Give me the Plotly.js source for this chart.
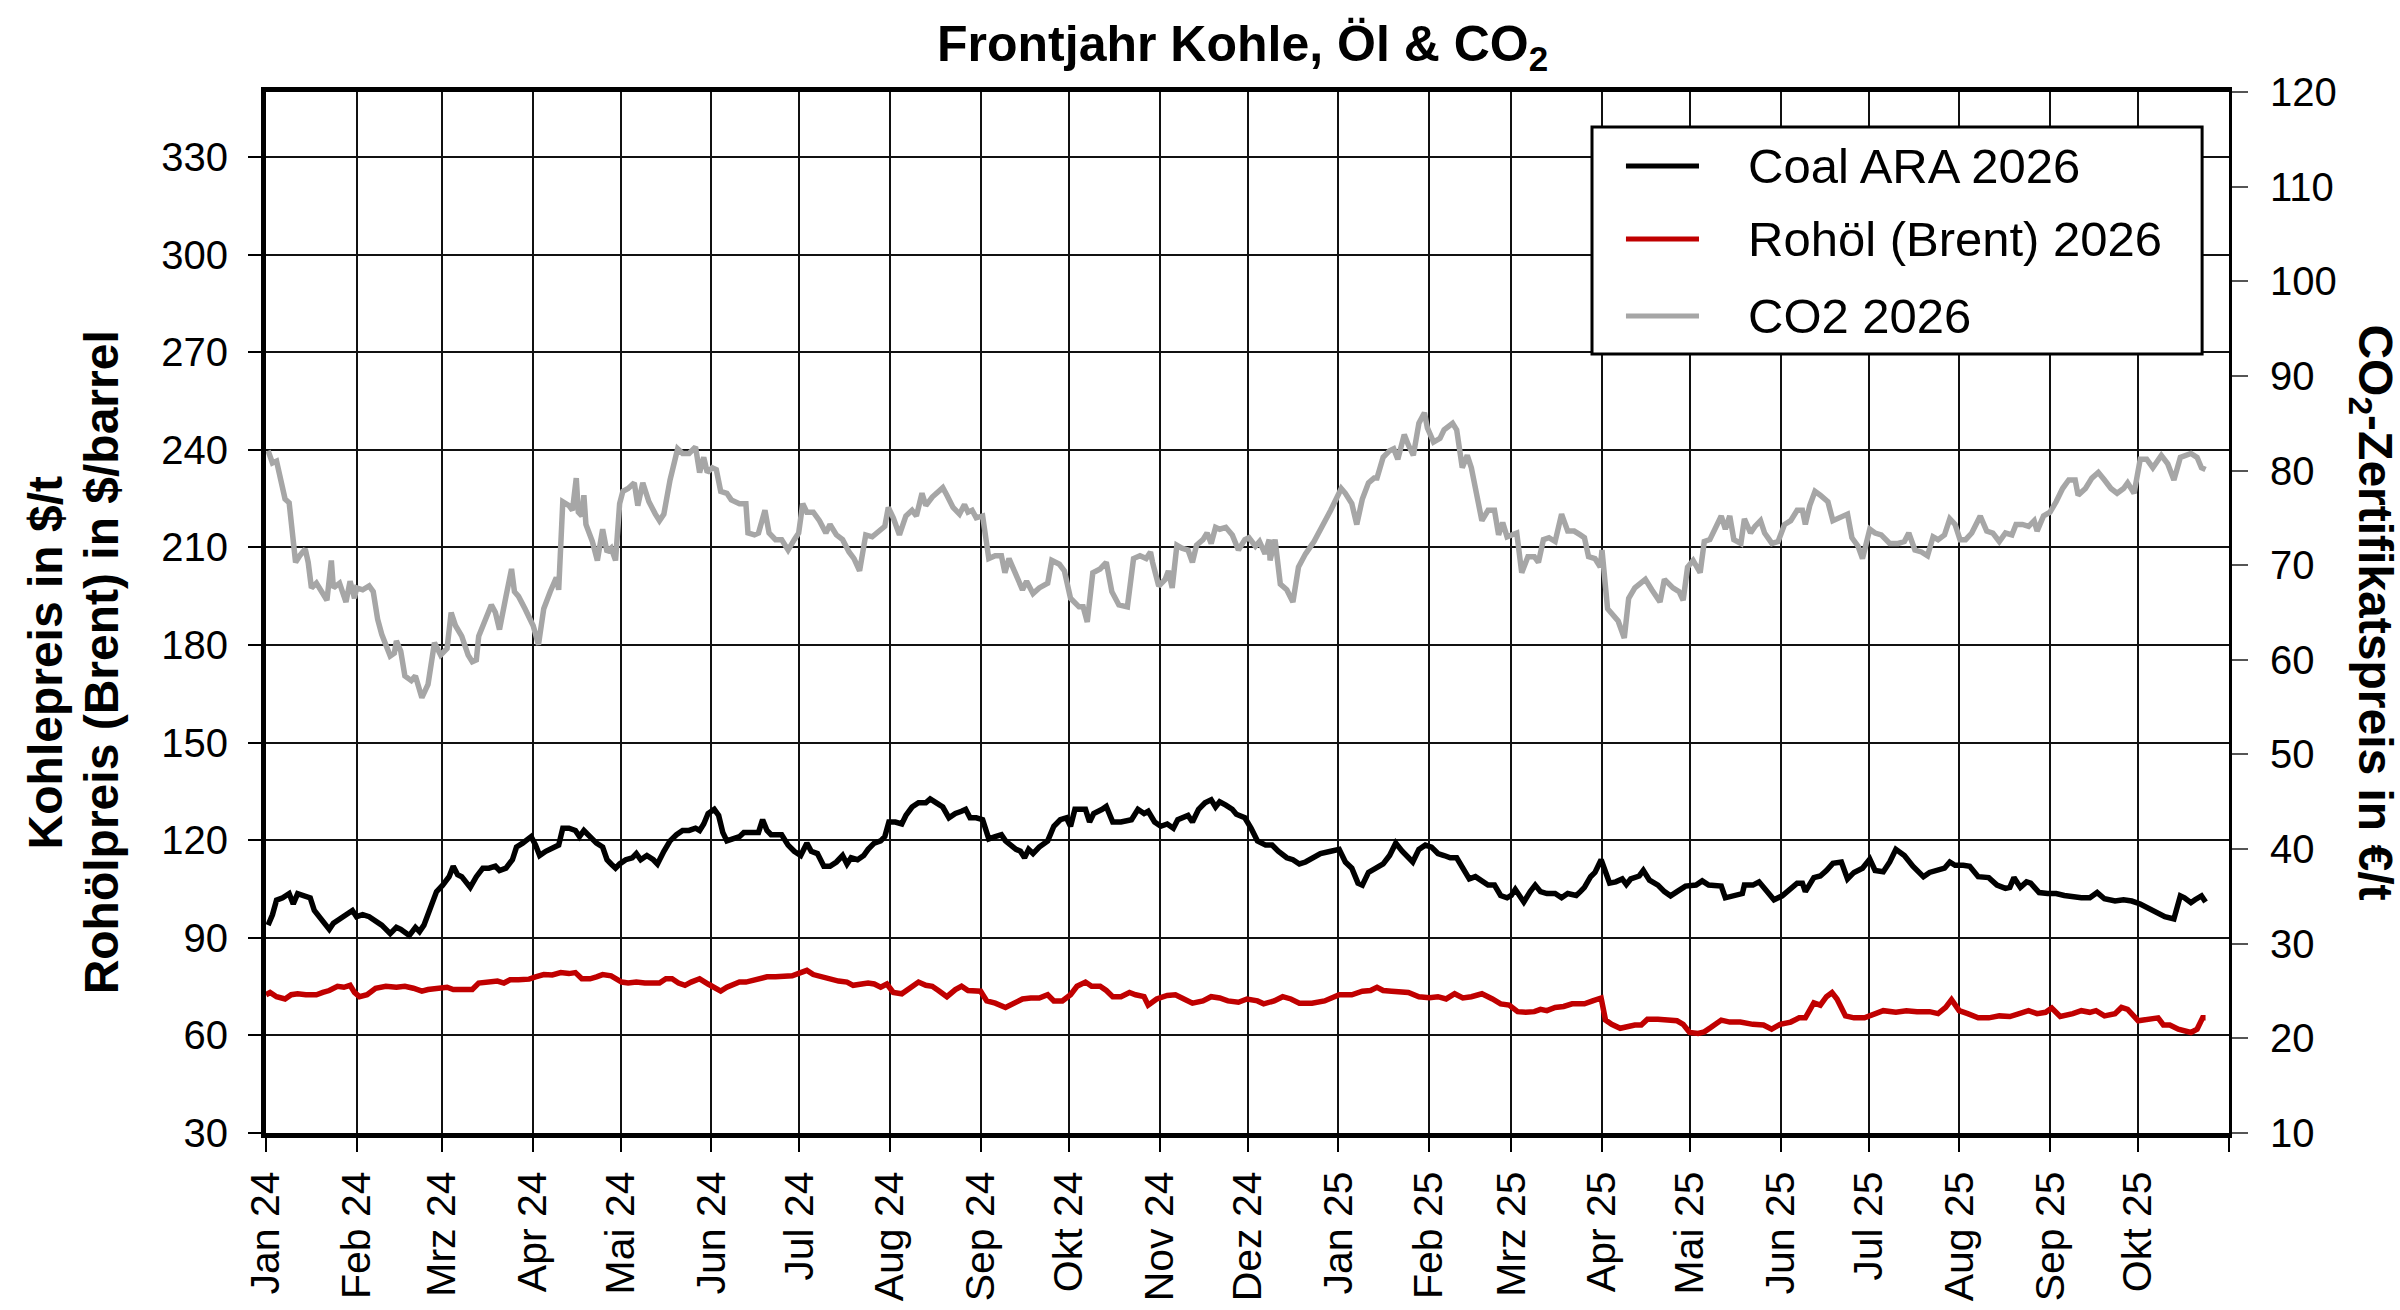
<!DOCTYPE html>
<html>
<head>
<meta charset="utf-8">
<script src="https://cdn.plot.ly/plotly-3.0.1.min.js"></script>
<style>
  html, body { margin: 0; padding: 0; background: #fff; }
  #main { width: 2400px; height: 1310px; }
</style>
</head>
<body>
<div id="main"></div>
<script>
// month ticks (German labels)
const monthTicks = ['2024-01-01', '2024-02-01', '2024-03-01', '2024-04-01', '2024-05-01', '2024-06-01',
  '2024-07-01', '2024-08-01', '2024-09-01', '2024-10-01', '2024-11-01', '2024-12-01',
  '2025-01-01', '2025-02-01', '2025-03-01', '2025-04-01', '2025-05-01', '2025-06-01',
  '2025-07-01', '2025-08-01', '2025-09-01', '2025-10-01', '2025-11-01']
const monthLabels = ['Jan 24', 'Feb 24', 'Mrz 24', 'Apr 24', 'Mai 24', 'Jun 24', 'Jul 24', 'Aug 24',
  'Sep 24', 'Okt 24', 'Nov 24', 'Dez 24', 'Jan 25', 'Feb 25', 'Mrz 25', 'Apr 25', 'Mai 25', 'Jun 25',
  'Jul 25', 'Aug 25', 'Sep 25', 'Okt 25', '']

const leftTicks = [30, 60, 90, 120, 150, 180, 210, 240, 270, 300, 330]
const rightTicks = [10, 20, 30, 40, 50, 60, 70, 80, 90, 100, 110, 120]

const seriesNames = ['Coal ARA 2026', 'Rohöl (Brent) 2026', 'CO2 2026']

// days since 2024-01-01
const coalDays = [0.7, 2.2, 3.6, 5.7, 7.9, 9.3, 10.8, 12.9, 15.1, 16.5, 18.7, 21.6, 23.0, 25.1, 27.3, 29.5, 30.9, 33.0, 35.2, 37.4,
  39.5, 42.4, 44.5, 46.0, 48.9, 51.0, 52.4, 53.9, 55.3, 56.8, 58.2, 60.3, 62.5, 63.9, 65.4, 66.8, 69.7, 71.8, 74.0, 76.1,
  78.3, 79.7, 81.9, 84.1, 85.5, 87.6, 90.5, 92.0, 93.4, 95.5, 98.4, 99.9, 101.3, 103.4, 105.6, 107.0, 108.5, 110.6, 112.8, 114.9,
  116.4, 117.8, 119.3, 120.7, 122.8, 125.0, 126.4, 127.9, 130.0, 132.2, 133.6, 135.8, 137.9, 140.1, 142.2, 144.4, 146.6, 148.0, 149.4, 150.9,
  153.0, 154.5, 155.9, 157.3, 159.5, 161.6, 163.1, 165.2, 168.1, 169.5, 171.0, 172.4, 174.6, 176.0, 178.2, 180.3, 182.5, 184.6, 186.1, 188.2,
  190.4, 192.5, 194.7, 196.8, 198.3, 199.7, 201.9, 204.0, 205.5, 207.6, 209.8, 211.2, 212.6, 214.8, 217.0, 218.4, 220.5, 222.7,
  225.2, 226.7, 228.8, 231.0, 233.1, 235.3, 237.4, 238.8, 240.3, 242.4, 244.6, 246.7, 248.9, 251.0, 252.4, 253.9, 256.0, 257.5, 258.9, 260.3,
  261.8, 263.9, 266.8, 268.9, 271.1, 273.2, 274.6, 276.1, 278.2, 279.7, 281.1, 282.5, 285.4, 286.8, 289.0, 291.8, 295.4, 297.6, 299.7, 301.1,
  303.3, 305.4, 307.6, 309.7, 311.2, 313.3, 314.7, 316.2, 318.3, 320.5, 322.6, 324.1, 325.5, 327.6, 329.8, 331.2, 334.1, 336.2, 338.4, 341.2,
  343.4, 345.5, 348.4, 350.5, 352.7, 354.8, 357.0, 359.9, 363.4, 366.3, 368.4, 370.6, 372.7, 374.2, 376.3, 379.2, 381.3, 383.5, 385.6, 387.8,
  389.9, 391.4, 393.5, 395.7, 397.8, 400.0, 402.1, 404.2, 406.4, 408.5, 410.7, 412.8, 415.0, 417.1, 419.3, 421.4, 423.6, 425.0, 426.4, 429.3,
  431.5, 433.2, 435.0, 437.2, 440.0, 442.2, 444.3, 447.2, 448.6,
  450.0, 452.1, 453.6, 455.7, 457.2, 458.6, 460.7, 462.9, 464.3, 465.8, 468.7, 470.1, 472.2, 475.1, 477.3, 479.4, 481.6, 484.5, 488.1, 490.2,
  492.4, 496.7, 498.1, 501.7, 503.9, 504.6, 507.5, 509.6, 511.8, 514.7, 517.5, 520.4, 522.6, 524.4, 525.4, 528.3, 530.5, 532.6, 534.8, 537.7,
  539.8, 542.0, 544.9, 547.4, 549.2, 552.0, 554.2, 556.3, 559.2, 562.1, 565.7, 567.8, 570.7, 572.9, 574.7, 576.5, 579.3, 581.5, 584.4, 588.0,
  590.8, 593.7, 595.2, 596.6, 598.8, 600.9, 602.3, 605.2, 608.1, 611.0, 613.8, 616.7, 619.6, 622.5, 625.0, 627.5, 631.1, 634.0, 636.8, 639.7,
  642.6, 645.5, 648.1, 651.2, 653.4, 654.8, 657.0, 658.4, 660.6, 662.0]
const coalValues = [93.9, 97.1, 101.6, 102.3, 103.6, 100.4, 103.6, 103.0, 102.3, 98.4, 95.8, 92.6, 94.5, 95.8, 97.1, 98.4, 96.5, 97.1, 96.5, 95.2,
  93.9, 91.3, 93.2, 92.6, 90.7, 93.2, 91.9, 93.9, 97.1, 100.4, 104.2, 106.2, 108.8, 112.0, 109.4, 108.8, 105.5, 108.8, 111.4, 111.4,
  112.0, 110.7, 111.4, 114.0, 117.9, 119.1, 121.1, 118.5, 115.3, 116.6, 117.9, 118.5, 123.7, 123.7, 123.0, 121.1, 123.0, 121.1, 119.1, 117.9,
  114.0, 112.7, 111.4, 112.7, 114.0, 114.6, 115.9, 114.0, 115.3, 114.0, 112.7, 116.6, 119.8, 121.7, 123.0, 123.0, 123.7, 123.0, 125.0, 128.2,
  129.5, 127.6, 122.4, 119.8, 120.4, 121.1, 122.4, 122.4, 122.4, 126.3, 123.0, 121.7, 121.7, 121.7, 118.5, 116.6, 115.3, 119.1, 116.6, 115.9,
  112.0, 112.0, 113.3, 115.3, 112.7, 114.6, 114.0, 115.3, 117.2, 119.1, 119.8, 121.1, 125.6, 125.6, 125.0, 127.6, 130.2, 131.5,
  131.5, 132.7, 131.5, 130.2, 126.9, 128.2, 128.9, 129.5, 126.9, 126.9, 126.3, 120.4, 121.1, 121.7, 119.8, 118.5, 117.2, 116.6, 114.6, 117.2,
  115.9, 117.9, 119.8, 124.3, 126.3, 126.9, 124.3, 129.5, 129.5, 129.5, 125.6, 128.2, 129.5, 130.4, 125.6, 125.6, 126.3, 129.5, 128.2, 128.9,
  125.6, 124.3, 125.0, 123.7, 126.3, 126.9, 127.6, 125.6, 129.5, 131.5, 132.4, 130.2, 131.8, 130.8, 129.5, 128.0, 126.9, 123.7, 119.8, 118.5,
  118.5, 116.6, 114.6, 114.0, 112.7, 113.3, 114.6, 115.9, 116.6, 117.2, 113.3, 111.4, 106.8, 106.2, 110.1, 111.4, 112.7, 115.3, 119.1, 116.6,
  114.6, 113.3, 117.2, 118.5, 117.9, 115.9, 115.3, 114.6, 114.6, 111.4, 108.1, 108.8, 107.5, 106.2, 106.2, 103.0, 102.3, 103.0, 104.9, 101.0,
  104.2, 106.2, 104.2, 103.6, 103.6, 102.3, 103.6, 103.0, 104.2,
  105.5, 108.8, 110.1, 114.0, 110.7, 106.8, 107.2, 108.1, 106.4, 108.1, 109.0, 110.7, 107.7, 106.2, 104.2, 102.9, 104.2, 105.9, 106.2, 107.5,
  106.2, 105.9, 102.3, 102.9, 103.6, 106.2, 106.2, 107.2, 104.9, 101.7, 102.9, 104.9, 106.8, 106.8, 104.2, 108.5, 109.0, 110.7, 112.9, 113.3,
  108.1, 110.1, 111.4, 114.2, 110.7, 110.3, 113.3, 117.2, 115.3, 112.0, 108.8, 110.1, 110.7, 111.4, 113.3, 112.3, 112.3, 112.0, 108.8, 108.5,
  106.2, 105.2, 105.5, 108.5, 105.5, 107.2, 106.8, 103.9, 103.6, 103.6, 103.0, 102.6, 102.3, 102.3, 103.9, 102.0, 101.3, 101.7, 101.3, 100.4,
  99.1, 97.4, 96.5, 95.8, 102.9, 102.3, 100.8, 101.7, 102.9, 101.0]

const oilDays = [0.0, 1.4, 3.6, 6.5, 8.6, 10.8, 13.6, 17.2, 19.4, 21.6, 24.4, 26.6, 28.7, 30.2, 31.9, 34.5, 37.4, 40.9, 44.5, 47.4,
  50.3, 53.2, 55.3, 58.9, 61.8, 63.9, 67.5, 70.4, 72.6, 76.1, 79.0, 81.2, 83.3, 86.2, 89.8, 92.0, 94.8, 97.7, 100.6, 103.4,
  105.6, 107.8, 110.6, 112.8, 114.9, 117.8, 121.4, 123.6, 126.4, 129.3, 132.2, 134.3, 136.5, 138.6, 140.8, 143.0, 145.1, 148.0, 150.9, 153.0,
  155.2, 157.3, 159.5, 161.6, 163.8, 166.7, 168.8, 171.0, 173.9, 176.7, 179.6, 182.5, 184.6, 186.8, 189.7, 192.5, 195.4, 198.3, 200.4, 203.3,
  205.5, 207.6, 209.8, 211.9, 214.1, 217.0, 219.8, 222.7,
  225.2, 227.4, 229.5, 232.4, 235.3, 237.4, 239.6, 241.7, 243.9, 246.0, 248.9, 252.4, 255.3, 258.2, 261.0, 263.9, 266.8, 268.9, 271.8, 274.6,
  276.8, 279.7, 281.8, 284.7, 286.8, 289.0, 291.8, 294.7, 296.8, 299.7, 301.1, 304.0, 307.6, 310.4, 313.3, 316.2, 319.8, 322.6, 325.5, 328.3,
  331.9, 334.8, 338.4, 340.5, 344.1, 347.0, 349.8, 352.7, 357.0, 361.3, 366.3, 370.6, 374.2, 377.0, 379.2, 381.3, 384.2, 387.1, 389.9, 393.5,
  397.1, 400.0, 402.8, 405.7, 408.5, 411.4, 415.0, 418.6, 421.4, 424.3, 427.2, 430.0, 432.9, 435.0, 437.2, 440.0, 442.9, 445.8,
  450.0, 452.8, 455.7, 457.2, 459.3, 462.2, 464.3, 467.2, 469.4, 471.5, 475.1, 478.7, 481.6, 483.7, 485.9, 488.8, 490.9, 493.1, 496.7, 499.6,
  503.2, 507.5, 511.1, 513.9, 516.8, 520.4, 523.3, 525.4, 528.3, 530.5, 532.6, 534.5, 536.2, 539.1, 542.0, 545.6, 549.2, 552.0, 556.3, 559.9,
  563.5, 567.8, 570.7, 573.3, 575.3, 577.9, 580.8, 584.4, 588.0, 591.6, 595.2, 598.8, 601.6, 604.5, 607.4, 609.5, 612.4, 616.7, 619.6, 622.5,
  624.6, 627.5, 631.1, 633.3, 635.4, 639.0, 642.6, 645.8, 647.6, 649.8, 652.7, 657.0, 659.1, 661.0, 662.0]
const oilValues = [72.5, 73.2, 71.9, 71.2, 72.5, 72.8, 72.5, 72.5, 73.2, 73.8, 75.1, 74.8, 75.4, 73.2, 71.9, 72.5, 74.5, 75.1, 74.8, 75.1,
  74.5, 73.6, 74.1, 74.5, 74.8, 74.1, 74.1, 74.1, 76.1, 76.4, 76.7, 76.1, 77.1, 77.1, 77.3, 78.0, 78.7, 78.6, 79.3, 79.0,
  79.3, 77.4, 77.4, 78.0, 78.7, 78.3, 76.4, 76.1, 76.4, 76.1, 76.1, 76.1, 77.4, 77.4, 76.1, 75.4, 76.4, 77.4, 75.8, 74.8,
  73.6, 74.8, 75.8, 76.4, 76.4, 77.1, 77.4, 78.0, 78.0, 78.3, 78.3, 79.3, 80.0, 78.7, 78.0, 77.4, 76.7, 76.4, 75.4, 75.8,
  76.1, 75.8, 74.8, 75.8, 73.2, 72.8, 74.5, 76.4,
  75.4, 75.1, 73.8, 71.9, 74.1, 75.1, 73.8, 73.6, 73.6, 70.6, 69.9, 68.6, 69.9, 71.2, 71.5, 71.5, 72.5, 70.6, 70.6, 72.5,
  75.1, 76.4, 75.1, 75.1, 73.8, 71.9, 71.9, 73.2, 72.5, 71.9, 69.3, 71.2, 72.3, 72.5, 71.2, 69.9, 70.6, 71.9, 71.5, 70.6,
  70.2, 71.2, 70.6, 69.7, 70.6, 71.9, 71.2, 69.9, 69.9, 70.6, 72.5, 72.5, 73.6, 73.8, 74.8, 73.8, 73.6, 73.6, 73.2, 71.9,
  71.6, 71.9, 71.2, 72.8, 71.5, 71.9, 72.8, 71.2, 69.7, 69.3, 67.3, 67.1, 67.3, 68.0, 67.6, 68.6, 68.9, 69.7,
  69.7, 70.6, 71.5, 64.7, 63.4, 62.2, 62.8, 63.2, 63.2, 65.0, 65.0, 64.7, 64.5, 63.4, 60.9, 60.6, 61.1, 62.4, 64.7, 64.1,
  64.1, 63.4, 63.2, 61.9, 63.4, 64.1, 65.4, 65.4, 70.0, 69.3, 71.9, 73.2, 71.2, 66.0, 65.4, 65.4, 66.7, 67.6, 67.1, 67.6,
  67.3, 67.3, 66.7, 68.6, 71.0, 67.6, 66.7, 65.4, 65.4, 66.0, 65.8, 66.7, 67.6, 66.7, 67.1, 68.4, 65.8, 66.7, 67.6, 67.1,
  67.6, 66.0, 66.7, 68.6, 68.0, 64.5, 65.0, 65.4, 63.2, 63.2, 61.9, 60.9, 61.9, 65.4, 65.4]

const co2Days = [0.7, 2.2, 3.6, 6.5, 7.9, 10.1, 11.5, 13.4, 14.4, 15.5, 17.2, 18.7, 20.8, 22.3, 23.0, 25.1, 27.3, 28.7, 30.2, 30.9,
  33.0, 35.2, 36.6, 38.1, 39.5, 42.4, 43.8, 44.5, 46.0, 47.4, 49.6, 51.0, 53.2, 55.3, 56.3, 57.5, 59.6, 61.8, 63.2, 64.7,
  66.8, 69.0, 70.4, 71.8, 72.6, 74.7, 76.9, 78.3, 79.7, 81.9, 83.8, 84.8, 86.2, 88.4, 91.2, 93.0, 94.8, 97.0, 99.1, 99.9,
  101.3, 103.4, 104.6, 105.9, 106.6, 107.8, 108.5, 109.2, 111.4, 113.1, 114.9, 116.4, 117.8, 119.3, 120.7, 121.8, 123.6, 125.7, 126.9, 128.6,
  130.7, 132.9, 134.3, 135.8, 137.9, 140.5, 142.2, 144.4, 146.6, 148.0, 149.4, 150.6, 152.3, 153.7, 155.2, 157.3, 158.8, 161.6, 163.8, 164.5,
  166.7, 168.1, 170.3, 171.7, 173.9, 176.0, 178.2, 180.3, 181.8, 183.2, 184.6, 186.8, 188.9, 191.1, 192.5, 194.7, 196.8, 199.0, 200.7, 202.6,
  204.7, 206.9, 209.1, 211.2, 212.4, 214.1, 216.2, 218.4, 220.5, 222.0, 223.9,
  225.2, 227.4, 231.0, 232.4, 234.5, 236.7, 238.4, 239.6, 241.0, 242.4, 244.6, 246.7, 248.9, 251.0, 252.2, 253.6, 255.3, 258.2, 259.6, 261.8,
  263.9, 266.8, 268.2, 270.8, 272.5, 274.6, 277.5, 278.9, 280.3, 282.2, 284.7, 286.8, 288.7, 291.1, 294.0, 296.1, 298.3, 300.4, 301.9, 302.6,
  304.7, 306.9, 308.0, 309.3, 310.9, 312.6, 314.7, 316.2, 317.6, 319.8, 321.2, 322.6, 324.1, 325.5, 327.6, 329.8, 331.9, 334.1, 335.5, 337.7,
  339.1, 341.0, 342.4, 342.7, 344.4, 346.2, 348.4, 350.5, 352.4, 354.8, 357.7, 360.6, 363.4, 365.6, 367.0, 368.4, 370.6, 372.3, 374.2, 376.3,
  378.2, 379.2, 381.3, 383.5, 384.9, 386.3, 388.5, 389.9, 391.6, 393.5, 395.4, 396.4, 398.5, 400.7, 402.1, 405.0, 406.4, 408.3, 410.0, 411.4,
  415.0, 417.1, 419.3, 420.7, 422.1, 423.6, 425.0, 426.9, 428.6, 430.7, 432.9, 434.3, 436.0, 437.9, 440.0, 442.2, 444.3, 446.5, 448.6,
  450.0, 451.4, 453.6, 455.4, 456.0, 457.9, 460.0, 461.5, 463.6, 465.1, 467.2, 469.4, 470.8, 473.0, 475.8, 477.3, 480.2, 482.3, 483.7, 485.2,
  487.1, 489.5, 490.9, 492.8, 495.3, 496.7, 498.1, 499.6, 501.0, 503.4, 504.6, 506.7, 508.2, 510.1, 511.5, 514.0, 516.1, 518.3, 520.4, 522.6,
  524.4, 525.4, 526.9, 528.7, 530.5, 533.1, 534.8, 537.7, 539.8, 541.3, 543.4, 544.9, 547.4, 549.2, 551.3, 554.2, 557.1, 559.2, 560.7, 562.8,
  565.0, 567.1, 569.0, 570.7, 572.9, 574.7, 576.5, 578.2, 580.1, 582.2, 585.1, 587.3, 589.4, 591.6, 593.7, 595.9, 597.3, 599.5, 601.6, 603.5,
  604.5, 606.7, 608.9, 611.0, 613.2, 615.3, 617.5, 618.5, 621.0, 623.2, 625.4, 627.5, 629.7, 631.8, 634.0, 635.4, 637.6, 639.7, 641.9, 644.0,
  646.9, 649.1, 651.2, 653.4, 655.3, 657.0, 659.1, 660.6, 662.0]
const co2Values = [82.1, 80.8, 81.0, 77.0, 76.6, 70.3, 71.0, 71.7, 70.3, 67.6, 68.1, 67.4, 66.3, 70.5, 67.6, 68.1, 66.1, 68.3, 66.5, 67.6,
  67.4, 67.8, 67.2, 64.3, 62.7, 60.4, 60.7, 62.0, 60.9, 58.3, 57.8, 58.3, 56.0, 57.4, 59.2, 61.8, 60.5, 61.2, 65.0, 63.6,
  62.5, 60.5, 59.8, 60.0, 62.5, 64.3, 65.8, 65.0, 63.2, 66.7, 69.6, 67.2, 66.7, 65.4, 63.6, 61.6, 65.4, 67.2, 68.7, 67.4,
  76.7, 76.3, 75.8, 79.2, 75.6, 75.2, 77.4, 74.3, 72.5, 70.5, 73.8, 71.4, 71.8, 70.5, 76.5, 77.8, 78.1, 78.7, 76.3, 78.7,
  76.7, 75.4, 74.7, 75.4, 79.0, 82.3, 81.8, 81.8, 82.5, 79.8, 81.4, 79.8, 80.3, 80.1, 77.8, 77.6, 76.9, 76.5, 76.5, 73.4,
  73.2, 73.4, 75.8, 73.4, 72.7, 72.7, 71.6, 72.7, 73.4, 76.5, 75.6, 75.6, 74.7, 73.4, 74.3, 73.2, 72.7, 71.4, 70.7, 69.4,
  73.2, 73.0, 73.6, 74.1, 76.1, 75.0, 73.2, 75.2, 75.8, 75.2, 77.6,
  76.3, 77.2, 78.2, 77.4, 76.1, 75.4, 76.4, 75.6, 75.8, 75.0, 75.2, 70.7, 71.0, 71.0, 69.2, 70.7, 69.4, 67.4, 68.3, 67.0,
  67.6, 68.1, 70.5, 70.1, 69.4, 66.5, 65.6, 65.6, 64.0, 69.2, 69.6, 70.3, 67.2, 65.8, 65.6, 70.7, 71.0, 70.7, 71.4, 70.3,
  67.8, 68.5, 69.4, 67.6, 72.1, 71.8, 71.6, 70.3, 72.1, 72.7, 73.4, 72.3, 74.0, 73.8, 74.0, 73.2, 71.6, 72.7, 72.9, 72.0,
  72.5, 71.2, 72.7, 70.5, 72.7, 68.0, 67.4, 66.1, 69.8, 71.2, 72.5, 74.1, 75.8, 77.2, 78.1, 77.6, 76.5, 74.3, 77.0, 78.7,
  79.2, 79.2, 81.4, 82.1, 82.3, 81.2, 83.8, 82.7, 81.6, 85.0, 86.1, 84.5, 83.0, 83.4, 84.3, 85.0, 84.3, 80.3, 81.6, 80.3,
  74.7, 75.8, 75.8, 73.2, 74.5, 73.0, 73.2, 73.4, 69.2, 70.9, 70.9, 70.3, 72.7, 72.9, 72.5, 75.4, 73.6, 73.6, 73.2,
  72.9, 70.9, 70.7, 69.8, 71.6, 65.4, 64.7, 64.1, 62.3, 66.5, 67.6, 68.1, 68.5, 67.4, 66.1, 68.5, 67.6, 67.2, 66.3, 69.8,
  70.5, 69.2, 72.5, 72.7, 74.3, 75.2, 73.8, 75.2, 72.7, 72.3, 74.9, 73.4, 74.1, 74.7, 73.4, 72.3, 72.5, 74.3, 74.7, 75.8,
  75.8, 74.3, 76.3, 77.8, 77.4, 76.7, 74.7, 75.2, 75.4, 72.9, 72.0, 70.7, 73.8, 73.4, 73.2, 72.3, 72.3, 72.5, 73.4, 71.6,
  71.4, 71.0, 73.0, 72.7, 73.2, 74.9, 74.3, 72.7, 72.7, 73.4, 75.2, 73.6, 73.4, 72.5, 73.4, 73.2, 74.3, 74.3, 74.1, 74.7,
  73.6, 75.2, 75.6, 76.7, 78.1, 79.0, 79.0, 77.4, 78.1, 79.2, 79.8, 79.0, 78.1, 77.6, 78.1, 78.7, 77.6, 81.2, 81.2, 80.3,
  81.6, 80.7, 79.0, 81.4, 81.6, 81.8, 81.4, 80.3, 80.1]

const t0 = Date.UTC(2024, 0, 1)
const toDate = (d) => {
  const s = new Date(t0 + d * 86400000).toISOString()
  return s.slice(0, 10) + ' ' + s.slice(11, 19)
}

const FONT = 'Liberation Sans, Arial, sans-serif'
const colors = ['#000000', '#c00000', '#a6a6a6']

const traces = [
  { x: coalDays.map(toDate), y: coalValues, name: seriesNames[0], yaxis: 'y' },
  { x: oilDays.map(toDate), y: oilValues, name: seriesNames[1], yaxis: 'y' },
  { x: co2Days.map(toDate), y: co2Values, name: seriesNames[2], yaxis: 'y2' },
].map((t, i) => Object.assign(t, {
  type: 'scatter',
  mode: 'lines',
  line: { color: colors[i], width: 5.5 },
  hoverinfo: 'skip',
}))

// legend drawn by hand, so the line samples can be as long as in the original
const legendRows = [0.9289, 0.8588, 0.7848]
const shapes = [{
  type: 'rect', xref: 'paper', yref: 'paper',
  x0: 0.6755, x1: 0.9863, y0: 0.7483, y1: 0.9664,
  line: { color: '#000', width: 3 }, fillcolor: '#fff',
}]
const annotations = []
seriesNames.forEach((name, i) => {
  shapes.push({
    type: 'line', xref: 'paper', yref: 'paper',
    x0: 0.6928, x1: 0.7300, y0: legendRows[i], y1: legendRows[i],
    line: { color: colors[i], width: 5 },
  })
  annotations.push({
    xref: 'paper', yref: 'paper', x: 0.7540, y: legendRows[i],
    xanchor: 'left', yanchor: 'middle', showarrow: false,
    text: name, font: { family: FONT, size: 49, color: '#000' },
  })
})

// axis titles
annotations.push({
  xref: 'paper', yref: 'paper', x: -0.1121, y: 0.452, textangle: -90,
  xanchor: 'center', yanchor: 'middle', showarrow: false,
  text: 'Kohlepreis in $/t', font: { family: FONT, size: 48, color: '#000', weight: 'bold' },
})
annotations.push({
  xref: 'paper', yref: 'paper', x: -0.0836, y: 0.452, textangle: -90,
  xanchor: 'center', yanchor: 'middle', showarrow: false,
  text: 'Rohölpreis (Brent) in $/barrel', font: { family: FONT, size: 48, color: '#000', weight: 'bold' },
})
annotations.push({
  xref: 'paper', yref: 'paper', x: 1.0729, y: 0.5, textangle: 90,
  xanchor: 'center', yanchor: 'middle', showarrow: false,
  text: 'CO<sub>2</sub>-Zertifikatspreis in €/t', font: { family: FONT, size: 48, color: '#000', weight: 'bold' },
})

const layout = {
  width: 2400,
  height: 1310,
  margin: { l: 266, r: 171, t: 92, b: 177 },
  paper_bgcolor: '#fff',
  plot_bgcolor: '#fff',
  showlegend: false,
  title: {
    text: 'Frontjahr Kohle, Öl & CO<sub>2</sub>',
    font: { family: FONT, size: 50, color: '#000', weight: 'bold' },
    xref: 'paper', x: 0.4975, xanchor: 'center',
    yref: 'container', y: 0.967, yanchor: 'middle',
  },
  xaxis: {
    type: 'date',
    range: ['2024-01-01', '2025-11-01'],
    tickmode: 'array',
    tickvals: monthTicks,
    ticktext: monthLabels,
    tickangle: -90,
    tickfont: { family: FONT, size: 41, color: '#000' },
    ticks: 'outside', ticklen: 14, tickwidth: 2, tickcolor: '#000',
    ticklabelstandoff: 3,
    showgrid: true, gridcolor: '#111', gridwidth: 2,
    showline: true, linecolor: '#000', linewidth: 5, mirror: true,
    zeroline: false,
  },
  yaxis: {
    range: [30, 350],
    tickmode: 'array',
    tickvals: leftTicks,
    tickfont: { family: FONT, size: 40, color: '#000' },
    ticks: 'outside', ticklen: 13, tickwidth: 2, tickcolor: '#000',
    ticklabelstandoff: 12,
    showgrid: true, gridcolor: '#111', gridwidth: 2,
    showline: true, linecolor: '#000', linewidth: 5,
    zeroline: false,
  },
  yaxis2: {
    overlaying: 'y',
    side: 'right',
    range: [10, 120],
    tickmode: 'array',
    tickvals: rightTicks,
    tickfont: { family: FONT, size: 40, color: '#000' },
    ticks: 'outside', ticklen: 16, tickwidth: 2, tickcolor: '#555',
    ticklabelstandoff: 14,
    showgrid: false,
    showline: true, linecolor: '#000', linewidth: 3,
    zeroline: false,
  },
  shapes: shapes,
  annotations: annotations,
}

Plotly.newPlot('main', traces, layout, { displayModeBar: false, staticPlot: true })
</script>
</body>
</html>
